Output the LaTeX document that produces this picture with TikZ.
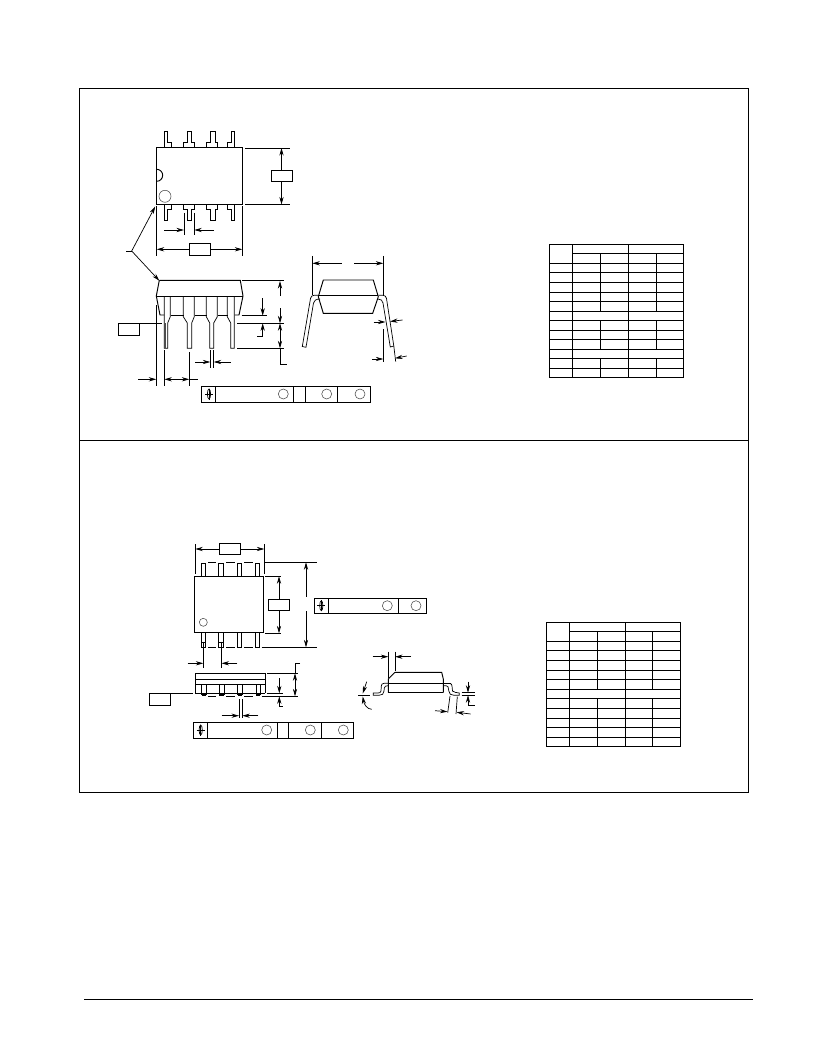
\documentclass[tikz,border=0pt]{standalone}
\usetikzlibrary{arrows.meta}
\tikzset{
  base/.style={line width=0.95pt,black},
  thin line/.style={line width=0.7pt,black},
  tipline/.style={thin line,-{Stealth[length=7.5pt,width=4.2pt]}},
  gray circle/.style={line width=0.55pt,black!70},
  dimbox/.style={draw,line width=0.95pt,fill=white,inner sep=0pt,minimum width=21pt,minimum height=11.5pt}
}
\newcommand{\bartol}[6]{% x1 y1 x2 y2 sym-x sym-y
  \draw[base] (#1,#2) rectangle (#3,#4);
  \draw[thin line] (#5,#6) ellipse (1.6 and 5);
  \draw[base] (#5-4,#6) -- (#5+4,#6);
  \draw[base] (#5,#6-5.5) -- (#5,#6+5.5);
}
\begin{document}
\begin{tikzpicture}[x=1pt,y=-1pt]
\useasboundingbox (0,0) rectangle (816,1056);
% frames
\draw[line width=1pt] (79.5,88.5) rectangle (748.5,792.5);
\draw[line width=1pt] (79.5,440) -- (748.5,440);
\draw[line width=1.9pt] (84,999.5) -- (753,999.5);

%% ---------- upper package: top view
\draw[base] (156.7,147.7) rectangle (242.3,204.3);
\draw[base] (156.7,181.3) arc (90:-90:6);
\draw[gray circle] (165,196.3) circle (6);
% top pins
\draw[thin line] (164.7,147.7) -- (164.7,131) -- (167.7,131) -- (167.7,142.5) -- (171,142.5) -- (171,147.7);
\draw[thin line] (183.7,147.7) -- (183.7,142.5) -- (187.7,142.5) -- (187.7,131) -- (191.7,131) -- (191.7,142.5) -- (194.3,142.5) -- (194.3,147.7);
\draw[thin line] (206.7,147.7) -- (206.7,142.5) -- (210.7,142.5) -- (210.7,131) -- (215,131) -- (215,142.5) -- (217.3,142.5) -- (217.3,147.7);
\draw[thin line] (227.3,147.7) -- (227.3,142.5) -- (231,142.5) -- (231,131) -- (234.3,131) -- (234.3,147.7);
% bottom pins
\draw[thin line] (164.7,204.3) -- (164.7,220.3) -- (167.7,220.3) -- (167.7,209.5) -- (171,209.5) -- (171,204.3);
\draw[thin line] (183.7,204.3) -- (183.7,209.5) -- (187.7,209.5) -- (187.7,220.3) -- (191.7,220.3) -- (191.7,209.5) -- (194.3,209.5) -- (194.3,204.3);
\draw[thin line] (206.7,204.3) -- (206.7,209.5) -- (210.7,209.5) -- (210.7,220.3) -- (215,220.3) -- (215,209.5) -- (217.3,209.5) -- (217.3,204.3);
\draw[thin line] (227.3,204.3) -- (227.3,209.5) -- (231,209.5) -- (231,220.3) -- (234.3,220.3) -- (234.3,204.3);
% dims top view
\draw[thin line] (245,148) -- (290,148);
\draw[thin line] (245,204.5) -- (290,204.5);
\node[dimbox] (bA) at (281.5,176) {};
\draw[tipline] (bA.north) -- (281.5,148);
\draw[tipline] (bA.south) -- (281.5,204.5);
\draw[thin line] (156.7,206) -- (156.7,256);
\draw[thin line] (242.3,206) -- (242.3,256);
\node[dimbox] (bB) at (199.8,249.3) {};
\draw[tipline] (bB.west) -- (156.7,249.3);
\draw[tipline] (bB.east) -- (242.3,249.3);
\draw[thin line] (184,213) -- (184,235);
\draw[thin line] (194.3,213) -- (194.3,235);
\draw[tipline] (164.3,230) -- (184,230);
\draw[tipline] (214,230) -- (194.3,230);
% leader
\coordinate (lead) at (131.7,251);
\draw[thin line] (126,251) -- (lead);
\draw[tipline] (lead) -- (155.2,206.5);
\draw[tipline] (lead) -- (159.3,280.7);

%% ---------- upper package: side view
\draw[base] (159.3,280.3) -- (240.3,280.3) -- (243,296) -- (239,315) -- (234.5,315);
\draw[base] (159.3,280.3) -- (156.3,296) -- (160,315) -- (164,315);
\draw[base] (156.3,296) -- (243,296);
\foreach \a/\b in {170.5/183.5,194.5/206.5,217.5/227.5} \draw[base] (\a,315) -- (\b,315);
\foreach \wl/\wr/\nl/\nr in {164.3/170.3/164.3/167.7,183.3/194.3/187.3/191.7,206.3/217.3/209.7/213.7,227.3/234.3/230.7/234.3}
  \draw[thin line] (\wl,296) -- (\wl,316.7) -- (\nl,323) -- (\nl,348.3) -- (\nr,348.3) -- (\nr,323) -- (\wr,316.7) -- (\wr,296);
\draw[line width=1.3pt,black!70] (165,323) -- (165,348);
% seating
\node[dimbox,anchor=north west] (bC) at (118.3,323.3) {};
\draw[thin line] (bC.north east) -- (161.7,323.3);
\draw[thin line] (237,323.3) -- (284,323.3);
\draw[thin line] (242,280.8) -- (284,280.8);
\draw[thin line] (241.7,315.7) -- (267,315.7);
\draw[thin line] (237,348.3) -- (284,348.3);
\draw[tipline] (280,296) -- (280,281);
\draw[tipline] (280,308) -- (280,323.3);
\draw[tipline] (280,336) -- (280,323.3);
\draw[tipline] (280,336) -- (280,348.3);
\draw[thin line] (280,348) -- (280,364) -- (287,364);
\draw[tipline] (262.7,298.3) -- (262.7,315.7);
\draw[tipline] (262.7,336.7) -- (262.7,323.3);
\draw[thin line] (262.7,336.7) -- (256.7,336.7);
% lead width
\draw[thin line] (210.3,350) -- (210.3,367.7);
\draw[thin line] (213.7,350) -- (213.7,367.7);
\draw[tipline] (195,362) -- (210.3,362);
\draw[tipline] (230.7,362) -- (213.7,362);
% bottom dims
\draw[thin line] (156.3,305) -- (156.3,385.7);
\draw[thin line] (164.3,350) -- (164.3,385.7);
\draw[thin line] (189.3,352) -- (189.3,385.7);
\draw[tipline] (138.3,379.3) -- (156.3,379.3);
\draw[tipline] (176.8,379.3) -- (164.3,379.3);
\draw[tipline] (176.8,379.3) -- (189.3,379.3);
\draw[thin line] (189.3,379.3) -- (198.3,379.3);
% tolerance bar 1
\bartol{201.3}{386}{370}{402}{209}{394}
\foreach \x in {215.7,293.3,305.3,337.3} \draw[base] (\x,386) -- (\x,402);
\foreach \x in {283.3,326.7,360} \draw[gray circle] (\x,394) circle (5);

%% ---------- upper package: end view
\draw[thin line] (312.3,256) -- (312.3,295);
\draw[thin line] (383.3,256) -- (383.3,295);
\draw[tipline] (341.7,263.3) -- (312.3,263.3);
\draw[tipline] (354,263.3) -- (383.3,263.3);
\draw[base] (323.3,280) -- (373.3,280) -- (378.3,296.7) -- (372.7,313.3) -- (323.3,313.3) -- (318.3,296.7) -- cycle;
\draw[base] (318.3,295.7) -- (378.3,295.7);
\draw[thin line] (318.3,295.3) -- (314,295.3) .. controls (312,295.3) and (311,296.5) .. (310.5,298.5) -- (302.3,346.5) -- (306,347.3) -- (313.5,303) .. controls (314,300.5) and (316,299) .. (320,299);
\draw[thin line] (378.5,295.3) -- (383,295.3) .. controls (385,295.3) and (386,296.5) .. (386.5,298.5) -- (393.8,346) -- (390.3,347) -- (383,303) .. controls (382.5,300.5) and (381,299) .. (378,299);
\draw[thin line] (393.8,346) -- (395.7,361.7);
\draw[thin line] (383.3,329) -- (383.3,361.7);
\draw[tipline] (373.5,322) -- (385.5,322);
\draw[tipline] (402.5,320) -- (390,321.5);
\draw[tipline] (372.3,359) -- (383.3,359);
\draw[tipline] (406.7,356) -- (395,358.3);

%% ---------- upper table
\draw[base] (549.3,244.3) rectangle (683.3,377.3);
\foreach \y in {263.3,272.3,282.3,292.3,301.3,311.3,320.3,330.3,339.3,349.3,358.3,368.3}
  \draw[base] (549.3,\y) -- (683.3,\y);
\draw[base] (572.3,253.3) -- (683.3,253.3);
\draw[base] (572.3,244.3) -- (572.3,377.3);
\draw[base] (628.3,244.3) -- (628.3,377.3);
\foreach \x in {600.7,656.7} {
  \draw[base] (\x,253.3) -- (\x,311.3);
  \draw[base] (\x,320.3) -- (\x,349.3);
  \draw[base] (\x,358.3) -- (\x,377.3);
}

%% ---------- lower package: top view
\draw[base] (194.3,576.3) rectangle (263.3,632.3);
\draw[gray circle] (203.3,622.3) circle (4);
\foreach \a/\b in {201.7/205.7,218.7/223.3,237.3/241.3,255.7/259.7} {
  \draw[thin line] (\a,576.3) -- (\a,563) -- (\b,563) -- (\b,576.3);
  \draw[thin line] (\a,632.3) -- (\a,647.3) -- (\b,647.3) -- (\b,632.3);
}
\foreach \a/\b in {208/216,226/235,244/253} {
  \draw[thin line] (\a,562.3) -- (\b,562.3);
  \draw[thin line] (\a,647.3) -- (\b,647.3);
}
\draw[thin line] (201.7,642) -- (205.7,642);
\draw[thin line] (218.7,642) -- (223.3,642);
\node[dimbox] (bD) at (230,549) {};
\draw[thin line] (195.3,544.3) -- (195.3,574.3);
\draw[thin line] (264.3,544.3) -- (264.3,574.3);
\draw[tipline] (bD.west) -- (195.3,549);
\draw[tipline] (bD.east) -- (264.3,549);
\draw[thin line] (265,562.3) -- (317.3,562.3);
\draw[thin line] (261.7,647.3) -- (317.3,647.3);
\coordinate (o1) at (306,596.7);
\coordinate (o2) at (306,611);
\draw[tipline] (o1) -- (306,562.3);
\draw[tipline] (o2) -- (306,647.3);
\draw[thin line] (265,576.3) -- (281,576.3);
\draw[thin line] (265,633.3) -- (281,633.3);
\node[dimbox] (bE) at (279,605.2) {};
\draw[tipline] (bE.north) -- (279,576.3);
\draw[tipline] (bE.south) -- (279,633.3);
\draw[thin line] (203.3,641.7) -- (203.3,668.3);
\draw[thin line] (221.5,641.7) -- (221.5,668.3);
\draw[tipline] (187.7,663.3) -- (203.3,663.3);
\draw[tipline] (237.3,663.3) -- (221.5,663.3);
% bar 2
\bartol{314.7}{598.3}{426}{613.3}{321.3}{605.7}
\foreach \x in {328.7,398.7} \draw[base] (\x,598.3) -- (\x,613.3);
\foreach \x in {387.3,416} \draw[gray circle] (\x,605.7) circle (5);

%% ---------- lower package: side view
\draw[base] (195.3,673.3) rectangle (265,684.3);
\draw[base] (195.3,679.3) -- (265,679.3);
\draw[base] (195.3,684.3) -- (195.3,693.3);
\draw[base] (265,684.3) -- (265,693.3);
\draw[base] (195.3,693.3) -- (265,693.3);
\foreach \a/\b in {201.7/206,219.3/224,237.7/242.3,256.3/260.3} {
  \draw[thin line] (\a,684.3) -- (\a,695);
  \draw[thin line] (\b,684.3) -- (\b,695);
  \draw[line width=1.1pt] (\a,695) -- (\b,695);
}
\foreach \a/\b in {208/216,226/235,244/253} \draw[thin line] (\a,696.5) -- (\b,696.5);
\node[dimbox,anchor=north west] (bF) at (149.3,693.3) {};
\draw[thin line] (bF.north east) -- (193.3,693.3);
\draw[thin line] (267.3,673.3) -- (298.3,673.3);
\draw[thin line] (261.7,696.3) -- (298.3,696.3);
\draw[thin line] (266.7,693.3) -- (283.3,693.3);
\draw[thin line] (300,663.3) -- (295,663.3) -- (295,674);
\draw[tipline] (295,685) -- (295,673.3);
\draw[tipline] (295,685) -- (295,696.3);
\draw[tipline] (279.3,678.3) -- (279.3,693.3);
\draw[tipline] (279.3,706.7) -- (279.3,696.3);
\draw[thin line] (279.3,706.7) -- (282.7,706.7);
\draw[thin line] (239,699) -- (239,718.3);
\draw[thin line] (242.3,699) -- (242.3,718.3);
\draw[tipline] (221.7,715.7) -- (239,715.7);
\draw[tipline] (258.3,715.7) -- (242.3,715.7);
% bar 3
\bartol{193.3}{722.7}{353.3}{738.3}{200.7}{730}
\foreach \x in {207.7,277.7,288.3,321.7} \draw[base] (\x,722.7) -- (\x,738.3);
\foreach \x in {266.7,310.3,343.3} \draw[gray circle] (\x,730) circle (5);

%% ---------- lower package: end view
\draw[base] (395,672.3) -- (441.7,672.3) -- (443.3,679) -- (443.3,692.7);
\draw[base] (395,672.3) -- (388.3,679) -- (388.3,692.7);
\draw[line width=1.3pt] (388.3,692.7) -- (443.3,692.7);
\draw[base] (388.3,683.3) -- (451,683.3);
\draw[thin line] (388.3,683.3) -- (384,683.3) .. controls (382,683.3) and (381.5,684.5) .. (381.3,686) -- (381,691) .. controls (380.8,692.5) and (379.5,693) .. (378,693) -- (373.3,693) -- (373.3,695.3) -- (379,695.3) .. controls (382,695.3) and (384,694) .. (384,691) -- (384.3,688) .. controls (384.5,686.2) and (386,685.7) .. (388.3,685.7);
\draw[thin line] (443.3,685.7) -- (446,685.7) .. controls (448,685.7) and (448.3,687) .. (448.5,689) -- (448.8,691) .. controls (449,694) and (451,695.3) .. (454,695.3) -- (459.3,695.3) -- (459.3,693) .. controls (456,692.5) and (454.3,692.5) .. (452.5,691) -- (452,686) .. controls (451.8,684.5) and (451.5,683.3) .. (449,683.3);
\draw[thin line] (388.3,651.7) -- (388.3,678);
\draw[thin line] (395,651.7) -- (395,671);
\draw[tipline] (372.7,656.7) -- (388.3,656.7);
\draw[tipline] (411,656.7) -- (395,656.7);
\draw[thin line] (358.3,695) -- (370,695);
\draw[tipline] (366.7,681.7) -- (362.7,693.5);
\draw[{Stealth[length=7.5pt,width=4.2pt]}-,thin line] (362.7,696.5) .. controls (364,704) and (367,709.3) .. (371.7,709.3);
\draw[thin line] (461.7,692.7) -- (475,692.7);
\draw[thin line] (461.7,695.2) -- (475,695.2);
\draw[tipline] (468,681.7) -- (468,692.7);
\draw[tipline] (468,705.7) -- (468,695.2);
\draw[thin line] (468,705.7) -- (475,705.7);
\draw[thin line] (450,696) -- (447.7,712.7);
\draw[thin line] (457.3,696.7) -- (456,714);
\draw[tipline] (435,710.7) -- (447.5,711.7);
\draw[tipline] (470.7,714) -- (456.5,712.3);

%% ---------- lower table
\draw[base] (546,622.3) rectangle (680.3,746.3);
\foreach \y in {641,650.3,660.3,670,679.3,689.3,698.3,708.3,718,727.3,737.3}
  \draw[base] (546,\y) -- (680.3,\y);
\draw[base] (569.3,631.3) -- (680.3,631.3);
\draw[base] (569.3,622.3) -- (569.3,746.3);
\draw[base] (625.3,622.3) -- (625.3,746.3);
\foreach \x in {597.3,652.3} {
  \draw[base] (\x,631.3) -- (\x,689.3);
  \draw[base] (\x,698.3) -- (\x,746.3);
}
\end{tikzpicture}
\end{document}
